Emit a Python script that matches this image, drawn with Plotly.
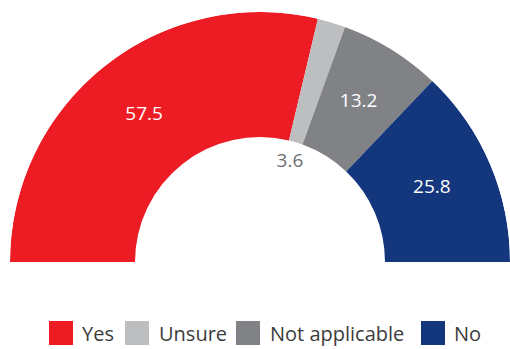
import plotly.graph_objects as go

categories = ["Yes", "Unsure", "Not applicable", "No"]
values = [57.5, 3.6, 13.2, 25.8]
colors = ["#ED1C24", "#BCBEC0", "#808285", "#13367D"]
label_colors = ["#FFFFFF", "#6D6E71", "#FFFFFF", "#FFFFFF"]
label_radius = [0.748, 0.418, 0.75, 0.748]

total = sum(values)
widths = [v / total * 180.0 for v in values]
mids = []
acc = 0.0
for w in widths:
    mids.append(acc + w / 2)
    acc += w

HOLE = 0.5
FONT = "Open Sans"

fig = go.Figure()
fig.add_trace(go.Barpolar(
    theta=mids, width=widths, r=[1 - HOLE] * len(values), base=[HOLE] * len(values),
    marker=dict(color=colors, line=dict(width=0)),
    showlegend=False, hoverinfo="skip",
))
fig.add_trace(go.Scatterpolar(
    theta=mids, r=label_radius, mode="text",
    text=[f"{v:.1f}" for v in values],
    textfont=dict(color=label_colors, size=19, family=FONT),
    showlegend=False, hoverinfo="skip",
))

W, H = 510, 349
fig.update_layout(
    width=W, height=H,
    margin=dict(l=0, r=0, t=0, b=0),
    paper_bgcolor="white", plot_bgcolor="white",
    showlegend=False,
    polar=dict(
        domain=dict(x=[10 / W, 1], y=[(H - 262) / H, (H - 12) / H]),
        sector=[0, 180],
        hole=0,
        bgcolor="white",
        angularaxis=dict(rotation=180, direction="clockwise", visible=False,
                         showgrid=False, showline=False, showticklabels=False, ticks=""),
        radialaxis=dict(range=[0, 1], visible=False, showgrid=False, showline=False,
                        showticklabels=False, ticks=""),
    ),
)

# manual legend
legend_sq_x = [49, 125, 236, 421]
legend_txt_x = [82, 159, 270, 454]
sq = 24
yc = 333
for i, name in enumerate(categories):
    fig.add_shape(type="rect", xref="paper", yref="paper",
                  x0=legend_sq_x[i] / W, x1=(legend_sq_x[i] + sq) / W,
                  y0=(H - yc - sq / 2) / H, y1=(H - yc + sq / 2) / H,
                  fillcolor=colors[i], line=dict(width=0))
    fig.add_annotation(xref="paper", yref="paper", x=legend_txt_x[i] / W, y=(H - yc) / H,
                       text=name, showarrow=False, xanchor="left", yanchor="middle",
                       xshift=-2,
                       font=dict(size=20, color="#3C3C3C", family=FONT))

fig.write_html("out.html")
